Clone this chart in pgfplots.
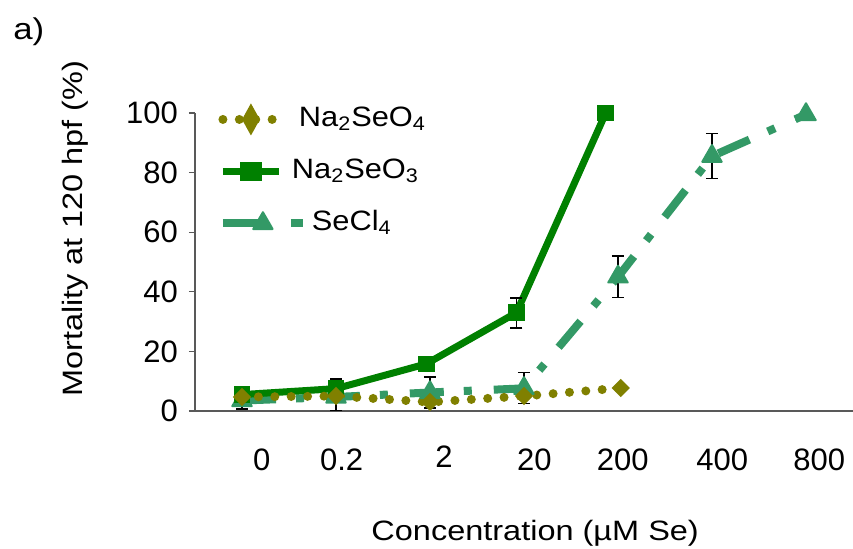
\documentclass[border=0pt]{standalone}
\usepackage{fontspec}
\setmainfont{Liberation Sans}
\newfontfamily\lblfont[FakeStretch=1.16]{Liberation Sans}
\newfontfamily\legfont[FakeStretch=1.1]{Liberation Sans}
\usepackage{pgfplots}
\pgfplotsset{compat=1.18}
\definecolor{olivec}{HTML}{808000}
\definecolor{greenc}{HTML}{008000}
\definecolor{seac}{HTML}{339966}
\pgfplotsset{
  legdiam/.style={legend image code/.code={\draw[mark repeat=2, mark phase=2, ##1, mark options={solid, line width=0.8pt, xscale=1.33, yscale=1.8}] plot coordinates {(0pt,0pt) (14pt,0pt) (28pt,0pt)};}},
  legsq/.style={legend image code/.code={\draw[mark repeat=2, mark phase=2, ##1, mark options={solid, line width=0.8pt, xscale=1.3, yscale=1.1}] plot coordinates {(0pt,0pt) (14pt,0pt) (28pt,0pt)};}},
  leglong/.style={legend image code/.code={\draw[mark repeat=2, mark phase=2, ##1, dash pattern=on 19pt off 15pt on 6pt off 10pt] plot coordinates {(0pt,0pt) (20pt,0pt) (40pt,0pt)};}},
}
\begin{document}
\begin{tikzpicture}
\useasboundingbox (0,0) rectangle (426.5pt,274.5pt);
\node[anchor=base west, font=\lblfont\fontsize{15}{18}\selectfont, inner sep=0pt] at (6.5pt,254.5pt) {a)};
\begin{axis}[
  at={(97.5pt,69pt)}, anchor=south west,
  scale only axis, width=329pt, height=149pt,
  xmin=-0.5, xmax=6.5, ymin=0, ymax=100,
  axis x line=bottom, axis y line=left,
  axis line style={-, black!65, line width=0.6pt},
  clip=false,
  ytick={0,20,40,60,80,100},
  tick align=outside, major tick length=3pt,
  ytick style={black!65, line width=0.6pt},
  xtick={0.21,1.06,2.15,3.11,4.05,5.11,6.14},
  xticklabels={0,0.2,\raisebox{1.5pt}{2},20,200,400,800},
  xtick style={draw=none},
  xticklabel style={anchor=base, yshift=-27pt},
  ticklabel style={font=\fontsize{15.5}{18}\selectfont},
  yticklabel style={anchor=east, xshift=-2pt},
  /pgf/number format/assume math mode=true,
  xlabel={Concentration (µM Se)},
  ylabel={Mortality at 120 hpf (\%)},
  label style={font=\lblfont\fontsize{14}{17}\selectfont},
  xlabel style={at={(axis description cs:0.517,-0.433)}, anchor=base},
  ylabel style={at={(axis description cs:-0.1717,0.611)}, anchor=base},
  reverse legend,
  legend cell align=left,
  legend style={at={(axis description cs:0.035,1.03)}, anchor=north west,
    draw=none, fill=none, font=\legfont\fontsize{14}{17}\selectfont,
    row sep=11pt, inner sep=0pt,
    nodes={text height=10pt, text depth=3pt, inner sep=1pt}},
  error bars/error bar style={black, line width=0.6pt, solid},
  error bars/error mark options={rotate=90, black, mark size=3pt, line width=0.6pt, solid},
]
% SeCl4
\addplot[seac, line width=4pt, dash pattern=on 17pt off 10pt on 4pt off 11pt,
  mark=triangle*, mark size=5.6pt, mark options={solid, line join=round, line width=1pt},
  leglong,
  error bars/.cd, y dir=both, y explicit]
  coordinates {(0,3.5) +- (0,2.8) (1,4.7) +- (0,4.5) (2,6.2) +- (0,5.2) (3,7.6) +- (0,5.2) (4,45) +- (0,7) (5,85.5) +- (0,7.5) (6,99.5) +- (0,0)};
\addlegendentry{\hspace{1.5pt}SeCl\textsubscript{4}}
% Na2SeO3
\addplot[greenc, line width=3.5pt, mark=square*, mark size=3.9pt, mark options={solid, line width=0.6pt},
  legsq,
  error bars/.cd, y dir=both, y explicit, error bar style={line width=0.9pt}, error mark options={rotate=90, black, mark size=3pt, line width=1pt, solid}]
  coordinates {(0,5.5) +- (0,1.2) (1,7.5) +- (0,3.2) (1.96,15.8) +- (0,0) (2.92,33) +- (0,5) (3.87,100) +- (0,0)};
\addlegendentry{\hspace{-8.5pt}Na\textsubscript{2}SeO\textsubscript{3}}
% Na2SeO4
\addplot[olivec, line width=4.5pt, line cap=round, dash pattern=on 0pt off 8.2pt,
  mark=diamond*, mark size=4pt, mark options={solid, line width=0.8pt, xscale=1.33},
  legdiam]
  coordinates {(0,4.7) (1,5) (2,3) (3,5) (4.03,7.7)};
\addlegendentry{\hspace{-5pt}Na\textsubscript{2}SeO\textsubscript{4}}
\end{axis}
\end{tikzpicture}
\end{document}
